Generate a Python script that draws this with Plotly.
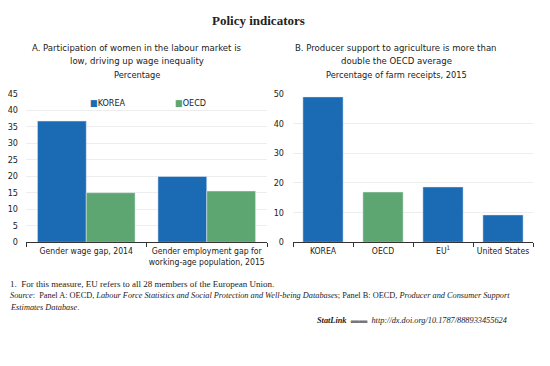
import plotly.graph_objects as go

# Panel A data
a_categories = ["Gender wage gap, 2014", "Gender employment gap for<br>working-age population, 2015"]
a_korea = [36.7, 19.9]
a_oecd = [15.0, 15.5]
a_yticks = [0, 5, 10, 15, 20, 25, 30, 35, 40, 45]
a_series = ["KOREA", "OECD"]

# Panel B data
b_categories = ["KOREA", "OECD", "EU<sup>1</sup>", "United States"]
b_values = [48.9, 16.9, 18.6, 9.2]
b_colors_key = ["KOREA", "OECD", "OTHER", "OTHER"]
b_yticks = [0, 10, 20, 30, 40, 50]

BLUE = "#1b6ab4"
GREEN = "#5da672"
color_map = {"KOREA": BLUE, "OECD": GREEN, "OTHER": BLUE}

# page is offset by the body margin (8 px); the figure fills the rest
OFF = 8
W, H = 550 - 2 * OFF, 366 - 2 * OFF
def px(x):
    return (x - OFF) / W
def py(y):
    return 1 - (y - OFF) / H

NARROW = "DejaVu Sans Condensed, Liberation Sans Narrow, Liberation Sans, Arial"
SERIF = "Liberation Serif, DejaVu Serif, serif"

fig = go.Figure()
fig.add_trace(go.Bar(x=a_categories, y=a_korea, name=a_series[0], marker_color=BLUE,
                     xaxis="x", yaxis="y", showlegend=False))
fig.add_trace(go.Bar(x=a_categories, y=a_oecd, name=a_series[1], marker_color=GREEN,
                     xaxis="x", yaxis="y", showlegend=False))
fig.add_trace(go.Bar(x=b_categories, y=b_values, showlegend=False,
                     marker_color=[color_map[k] for k in b_colors_key],
                     xaxis="x2", yaxis="y2", width=0.67))

grid = "#ededed"
fig.update_layout(
    width=W, height=H,
    margin=dict(l=0, r=0, t=0, b=0),
    paper_bgcolor="white", plot_bgcolor="white",
    barmode="group", bargap=0.19, bargroupgap=0,
    font=dict(family=NARROW, size=9, color="#222"),
    showlegend=False,
    xaxis=dict(domain=[px(26), px(267)], anchor="y", showline=True, linecolor="#333",
               linewidth=1, ticks="outside", tickson="boundaries", ticklen=4,
               tickcolor="#333", showgrid=False, tickangle=0,
               tickfont=dict(size=8.6, family=NARROW)),
    yaxis=dict(domain=[py(244), py(91)], anchor="x", range=[0, 45], tickvals=a_yticks,
               showline=False, showgrid=True, gridcolor=grid, zeroline=False,
               ticks="", ticklabelstandoff=7, tickfont=dict(size=9, family=NARROW)),
    xaxis2=dict(domain=[px(293), px(533)], anchor="y2", showline=True, linecolor="#333",
                linewidth=1, ticks="outside", tickson="boundaries", ticklen=4,
                tickcolor="#333", showgrid=False, tickangle=0,
                tickfont=dict(size=8.6, family=NARROW)),
    yaxis2=dict(domain=[py(244), py(91)], anchor="x2", range=[0, 50], tickvals=b_yticks,
                showline=False, showgrid=True, gridcolor=grid, zeroline=False,
                ticks="", ticklabelstandoff=8, tickfont=dict(size=9, family=NARROW)),
)

ann = []
def add(text, x, y, size, family, xanchor="center"):
    ann.append(dict(text=text, x=px(x), y=py(y), xref="paper", yref="paper",
                    xanchor=xanchor, yanchor="middle", showarrow=False,
                    font=dict(size=size, family=family, color="#222")))

add("<b>Policy indicators</b>", 258, 16, 13, SERIF)
add("A. Participation of women in the labour market is", 137, 44, 9.5, NARROW)
add("low, driving up wage inequality", 137, 57, 9.5, NARROW)
add("Percentage", 137, 71, 9.2, NARROW)
add("B. Producer support to agriculture is more than", 396, 44, 9.5, NARROW)
add("double the OECD average", 396, 57, 9.5, NARROW)
add("Percentage of farm receipts, 2015", 396, 71, 9.2, NARROW)

# legend for panel A
for name, col, lx in [(a_series[0], BLUE, 88), (a_series[1], GREEN, 173)]:
    add(f"<span style='color:{col}'>■</span>{name}", lx, 101, 9, NARROW, "left")

add("1.  For this measure, EU refers to all 28 members of the European Union.", 8, 287, 9, SERIF, "left")
add("<i>Source</i>:  Panel A: OECD, <i>Labour Force Statistics and Social Protection and Well-being Databases</i>; Panel B: OECD, <i>Producer and Consumer Support</i>",
    8, 299, 8.3, SERIF, "left")
add("<i>Estimates Database</i>.", 8, 311, 8.3, SERIF, "left")
add("<b><i>StatLink</i></b>  <span style='color:#777'>▬▬</span>  <i>http://dx.doi.org/10.1787/888933455624</i>", 509, 325, 8.3, SERIF, "right")
fig.update_layout(annotations=ann)

fig.write_html("out.html")
